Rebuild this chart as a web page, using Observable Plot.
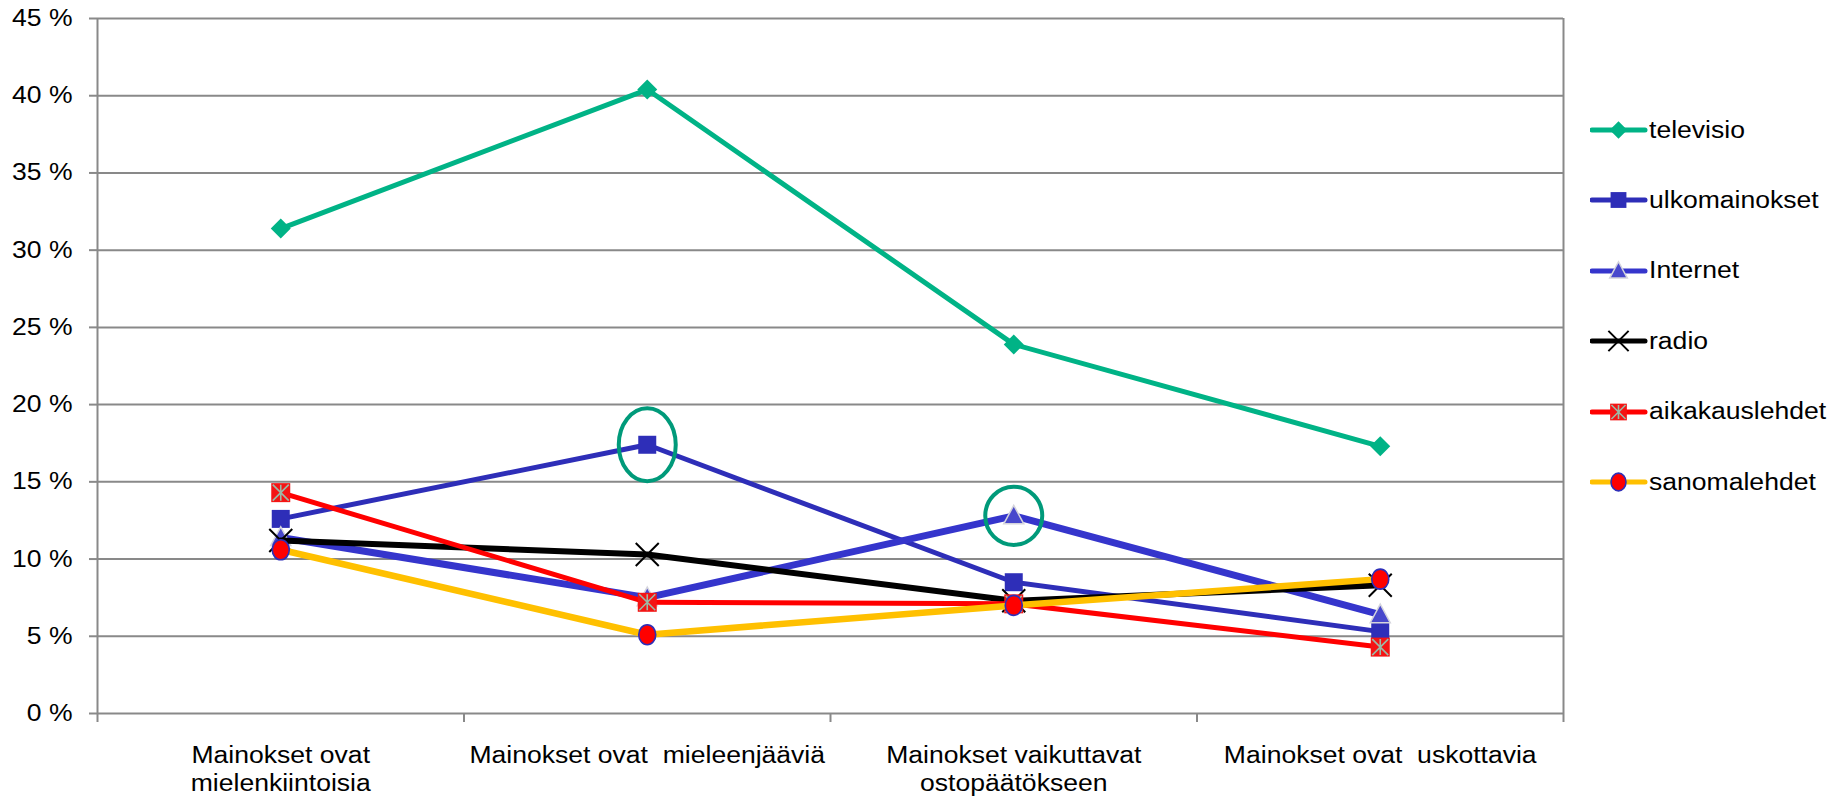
<!DOCTYPE html>
<html>
<head>
<meta charset="utf-8">
<script src="https://cdn.jsdelivr.net/npm/d3@7"></script>
<script src="https://cdn.jsdelivr.net/npm/@observablehq/plot@0.6"></script>
<style>
html, body { margin: 0; padding: 0; background: #fff; }
#wrap { position: relative; width: 1843px; height: 797px; overflow: hidden; }
#chart svg g[aria-label="x-axis tick"] path,
#chart svg g[aria-label="y-axis tick"] path,
#chart svg g[aria-label^="x-axis"] .tick line,
#chart svg g[aria-label^="y-axis"] .tick line { stroke: #898989; stroke-width: 2px; }
#chart svg g[aria-label^="x-axis"] .domain,
#chart svg g[aria-label^="y-axis"] .domain { display: none; }
#legend { position: absolute; left: 1590px; top: 0; }
.lrow { position: absolute; left: 0; height: 30px; display: flex; align-items: center; white-space: nowrap; }
.lrow span { font-family: "Liberation Sans", Arial, sans-serif; font-size: 23.5px; color: #000; display: inline-block; transform: scaleX(1.13); transform-origin: 0 50%; margin-left: 1px; }
</style>
</head>
<body>
<div id="wrap"><div id="chart"></div><div id="legend"></div></div>
<script>
// ---- data ----
const categories = [
  "Mainokset ovat\nmielenkiintoisia",
  "Mainokset ovat  mieleenjääviä",
  "Mainokset vaikuttavat\nostopäätökseen",
  "Mainokset ovat  uskottavia"
];
const yTicks = [0, 5, 10, 15, 20, 25, 30, 35, 40, 45];
const seriesNames = ["televisio", "ulkomainokset", "Internet", "radio", "aikakauslehdet", "sanomalehdet"];
const televisio      = [31.4, 40.4, 23.9, 17.3];
const ulkomainokset  = [12.6, 17.4, 8.5, 5.3];
const internet       = [11.4, 7.5, 12.8, 6.4];
const radio          = [11.2, 10.3, 7.3, 8.3];
const aikakauslehdet = [14.3, 7.2, 7.1, 4.3];
const sanomalehdet   = [10.6, 5.1, 7.0, 8.7];
// highlighted points (series index, category index)
const highlights = [[1, 1], [2, 2]];

const seriesValues = [televisio, ulkomainokset, internet, radio, aikakauslehdet, sanomalehdet];

// ---- symbols (half-extent = sqrt(size/π) = r) ----
const R = (size) => Math.sqrt(size / Math.PI);
const diamondSym = {draw(c, s) { const r = R(s); c.moveTo(0, -r); c.lineTo(r, 0); c.lineTo(0, r); c.lineTo(-r, 0); c.closePath(); }};
const squareSym = {draw(c, s) { const r = R(s); c.moveTo(-r, -r); c.lineTo(r, -r); c.lineTo(r, r); c.lineTo(-r, r); c.closePath(); }};
const triangleSym = {draw(c, s) { const r = R(s); c.moveTo(0, -r * 1.05); c.lineTo(r * 1.0, r * 0.8); c.lineTo(-r * 1.0, r * 0.8); c.closePath(); }};
const timesSym = {draw(c, s) { const r = R(s); c.moveTo(-r, -r); c.lineTo(r, r); c.moveTo(r, -r); c.lineTo(-r, r); }};
const asteriskSym = {draw(c, s) { const r = R(s); c.moveTo(-r, -r); c.lineTo(r, r); c.moveTo(r, -r); c.lineTo(-r, r); c.moveTo(0, -r); c.lineTo(0, r); }};
function ellipseSym(aspect) {
  return {draw(c, s) {
    const rx = R(s), ry = rx * aspect, k = 0.5523;
    c.moveTo(rx, 0);
    c.bezierCurveTo(rx, ry * k, rx * k, ry, 0, ry);
    c.bezierCurveTo(-rx * k, ry, -rx, ry * k, -rx, 0);
    c.bezierCurveTo(-rx, -ry * k, -rx * k, -ry, 0, -ry);
    c.bezierCurveTo(rx * k, -ry, rx, -ry * k, rx, 0);
    c.closePath();
  }};
}

// ---- styles ----
const lineStyles = [
  {stroke: "#00b386", strokeWidth: 5},
  {stroke: "#2e2eb8", strokeWidth: 5},
  {stroke: "#3535cc", strokeWidth: 7},
  {stroke: "#000000", strokeWidth: 6},
  {stroke: "#ff0000", strokeWidth: 5},
  {stroke: "#ffc000", strokeWidth: 6.5}
];
const markerStyles = [
  [{symbol: diamondSym, r: 10, fill: "#00b386", stroke: "none"}],
  [{symbol: squareSym, r: 9, fill: "#2e2eb8", stroke: "none"}],
  [{symbol: triangleSym, r: 10, fill: "#4848cc", stroke: "#d4d4dc", strokeWidth: 1.5}],
  [{symbol: timesSym, r: 11.5, fill: "none", stroke: "#000", strokeWidth: 2}],
  [{symbol: squareSym, r: 9.5, fill: "#f41414", stroke: "none"},
   {symbol: asteriskSym, r: 8, fill: "none", stroke: "#9cbaa7", strokeWidth: 1.6}],
  [{symbol: ellipseSym(1.18), r: 8.5, fill: "#ff0000", stroke: "#2e2eb8", strokeWidth: 1.6}]
];
const legendMarkerScale = 0.88;

const xPos = (d, i) => i + 0.5;

const marks = [
  Plot.ruleY(yTicks, {stroke: "#898989", strokeWidth: 2}),
  Plot.ruleX([0, categories.length], {stroke: "#898989", strokeWidth: 2})
];
seriesValues.forEach((vals, si) => {
  marks.push(Plot.line(vals, {x: xPos, y: d => d, ...lineStyles[si], strokeLinejoin: "round", strokeLinecap: "round"}));
  markerStyles[si].forEach(ms => {
    marks.push(Plot.dot(vals, {x: xPos, y: d => d, ...ms}));
  });
});
// highlight ellipses
const hlData = highlights.map(([si, ci]) => ({x: ci + 0.5, y: seriesValues[si][ci], si}));
marks.push(Plot.dot(hlData.filter(d => d.si === 1), {x: "x", y: "y", symbol: ellipseSym(1.28), r: 28.5, fill: "none", stroke: "#009a7a", strokeWidth: 4}));
marks.push(Plot.dot(hlData.filter(d => d.si === 2), {x: "x", y: "y", symbol: ellipseSym(1.02), r: 28.5, fill: "none", stroke: "#009a7a", strokeWidth: 4}));
// category labels
marks.push(Plot.text(categories, {x: xPos, y: 0, text: d => d, lineAnchor: "top", dy: 29, lineHeight: 1.2, fill: "#000", textAnchor: "middle"}));

const svg = Plot.plot({
  width: 1843,
  height: 797,
  marginLeft: 97,
  marginRight: 280,
  marginTop: 18,
  marginBottom: 84,
  style: {fontFamily: "'Liberation Sans', Arial, sans-serif", fontSize: "23.5px", color: "#000", background: "#fff", overflow: "visible"},
  x: {domain: [0, categories.length], ticks: d3.range(categories.length + 1), tickSize: 9, tickFormat: () => "", label: null},
  y: {domain: [0, 45], ticks: yTicks, tickSize: 8, tickPadding: 17, tickFormat: d => `${d} %`, label: null},
  marks
});
document.getElementById("chart").appendChild(svg);

// horizontal stretch of text about its own anchor point
const SX = 1.13;
svg.querySelectorAll("text").forEach(t => {
  const x = parseFloat(t.getAttribute("x")) || 0;
  const y = parseFloat(t.getAttribute("y")) || 0;
  const prev = t.getAttribute("transform") || "";
  t.setAttribute("transform", `${prev} translate(${x},${y}) scale(${SX},1) translate(${-x},${-y})`.trim());
});

// ---- legend ----
const legend = d3.select("#legend");
seriesNames.forEach((name, si) => {
  const row = legend.append("div").attr("class", "lrow").style("top", (130 - 15 + si * 70.4) + "px");
  const s = row.append("svg").attr("width", 58).attr("height", 30);
  s.append("line").attr("x1", 2).attr("x2", 55).attr("y1", 15).attr("y2", 15)
    .attr("stroke", lineStyles[si].stroke).attr("stroke-width", 5).attr("stroke-linecap", "round");
  markerStyles[si].forEach(ms => {
    const rr = ms.r * legendMarkerScale;
    s.append("path").attr("transform", "translate(28.5,15)")
      .attr("d", d3.symbol(ms.symbol, Math.PI * rr * rr)())
      .attr("fill", ms.fill).attr("stroke", ms.stroke)
      .attr("stroke-width", ms.strokeWidth || 0);
  });
  row.append("span").text(name);
});
</script>
</body>
</html>
